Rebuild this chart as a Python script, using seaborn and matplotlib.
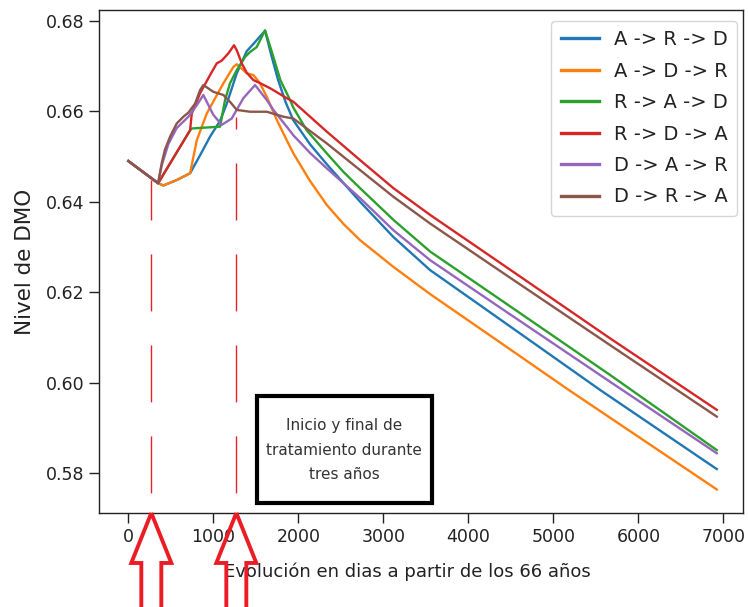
import matplotlib
matplotlib.use("Agg")
import matplotlib.pyplot as plt
from matplotlib import transforms
from matplotlib.patches import Polygon, Rectangle
from matplotlib.ticker import FormatStrFormatter
import pandas as pd
import seaborn as sns

# Treatment sequences and their colours
secuencias = ["A -> R -> D", "A -> D -> R", "R -> A -> D",
              "R -> D -> A", "D -> A -> R", "D -> R -> A"]
colores = ["#1f77b4", "#ff7f0e", "#2ca02c", "#d62728", "#9467bd", "#8c564b"]

# Bone density level (DMO) by day, one series per sequence
dias_ard = [0, 350, 412, 569, 726, 850, 961, 1079, 1158, 1275, 1393, 1471, 1608,
            1680, 1760, 1850, 1941, 2137, 2334, 2726, 3118, 3549, 4373, 5549, 6922]
dmo_ard = [0.6490, 0.6441, 0.6436, 0.6448, 0.6463, 0.6505, 0.6544, 0.6579, 0.6617,
           0.6684, 0.6733, 0.6749, 0.6778, 0.6725, 0.6670, 0.6620, 0.6580, 0.6527,
           0.6483, 0.6400, 0.6322, 0.6249, 0.6140, 0.5984, 0.5809]

dias_adr = [0, 350, 412, 569, 726, 805, 922, 1118, 1235, 1275, 1393, 1471, 1549,
            1628, 1746, 1863, 1941, 2137, 2334, 2530, 2726, 3118, 3549, 4373,
            5180, 6922]
dmo_adr = [0.6490, 0.6441, 0.6436, 0.6448, 0.6463, 0.6536, 0.6595, 0.6662, 0.6698,
           0.6704, 0.6684, 0.6680, 0.6662, 0.6632, 0.6581, 0.6536, 0.6507, 0.6446,
           0.6393, 0.6351, 0.6315, 0.6256, 0.6196, 0.6089, 0.5984, 0.5764]

dias_rad = [0, 350, 726, 746, 1079, 1137, 1196, 1275, 1373, 1431, 1510, 1608,
            1690, 1790, 1902, 1941, 2098, 2334, 2530, 2726, 3118, 3549, 4373,
            5667, 6922]
dmo_rad = [0.6490, 0.6441, 0.6558, 0.6562, 0.6566, 0.6625, 0.6662, 0.6691, 0.6720,
           0.6731, 0.6742, 0.6779, 0.6730, 0.6668, 0.6625, 0.6608, 0.6558, 0.6507,
           0.6466, 0.6430, 0.6360, 0.6290, 0.6184, 0.6017, 0.5851]

dias_rda = [0, 350, 726, 746, 844, 961, 1040, 1098, 1176, 1243, 1275, 1334, 1393,
            1471, 1551, 1667, 1863, 1941, 2334, 2726, 3118, 3549, 4373, 5667, 6922]
dmo_rda = [0.6490, 0.6441, 0.6558, 0.6595, 0.6640, 0.6680, 0.6706, 0.6712, 0.6728,
           0.6746, 0.6735, 0.6706, 0.6685, 0.6669, 0.6662, 0.6651, 0.6629, 0.6621,
           0.6555, 0.6492, 0.6430, 0.6371, 0.6265, 0.6098, 0.5940]

dias_dar = [0, 350, 392, 471, 569, 706, 800, 882, 1000, 1098, 1216, 1353, 1490,
            1628, 1706, 1863, 1941, 2137, 2334, 2726, 3118, 3549, 4373, 5667, 6922]
dmo_dar = [0.6490, 0.6441, 0.6480, 0.6528, 0.6563, 0.6588, 0.6612, 0.6636, 0.6592,
           0.6570, 0.6584, 0.6629, 0.6658, 0.6625, 0.6603, 0.6566, 0.6547, 0.6508,
           0.6474, 0.6408, 0.6337, 0.6271, 0.6166, 0.6002, 0.5844]

dias_dra = [0, 350, 392, 430, 491, 569, 647, 706, 785, 844, 882, 1000, 1118, 1200,
            1275, 1432, 1628, 1824, 1941, 2334, 2726, 3118, 3549, 4373, 5667, 6922]
dmo_dra = [0.6490, 0.6441, 0.6485, 0.6515, 0.6544, 0.6573, 0.6588, 0.6597, 0.6617,
           0.6647, 0.6658, 0.6643, 0.6636, 0.6620, 0.6603, 0.6599, 0.6599, 0.6588,
           0.6584, 0.6529, 0.6470, 0.6411, 0.6352, 0.6247, 0.6083, 0.5925]

# Start and end of the three-year treatment window
lineas_dias = [270, 1270]
lineas_tope = [0.6448, 0.6588]

x_ticks = [0, 1000, 2000, 3000, 4000, 5000, 6000, 7000]
y_ticks = [0.58, 0.60, 0.62, 0.64, 0.66, 0.68]
x_lim = (-345, 7231)
y_lim = (0.5712, 0.6824)

series = [(dias_ard, dmo_ard), (dias_adr, dmo_adr), (dias_rad, dmo_rad),
          (dias_rda, dmo_rda), (dias_dar, dmo_dar), (dias_dra, dmo_dra)]
frames = [pd.DataFrame({"dia": d, "dmo": v, "secuencia": s})
          for s, (d, v) in zip(secuencias, series)]
df = pd.concat(frames, ignore_index=True)

fig = plt.figure(figsize=(7.48, 6.07), dpi=100)
ax = fig.add_axes([0.1324, 0.1549, 0.8610, 0.8287])

sns.lineplot(data=df, x="dia", y="dmo", hue="secuencia", hue_order=secuencias,
             palette=colores, estimator=None, sort=False, linewidth=1.7, ax=ax)

# dashed red markers for the treatment window
for x0, top in zip(lineas_dias, lineas_tope):
    ax.plot([x0, x0], [y_lim[0], top], color="#e8202a", lw=1.0,
            linestyle=(51, (41, 24.5)), zorder=1)

ax.set_xlim(*x_lim)
ax.set_ylim(*y_lim)
ax.set_xticks(x_ticks)
ax.set_yticks(y_ticks)
ax.yaxis.set_major_formatter(FormatStrFormatter("%.2f"))
ax.tick_params(labelsize=12.5, length=7, width=1.0, colors="#222222",
               labelcolor="#222222")
for sp in ax.spines.values():
    sp.set_linewidth(1.0)
    sp.set_color("#222222")

ax.set_xlabel("Evolución en dias a partir de los 66 años", fontsize=13,
              color="#222222")
ax.set_ylabel("Nivel de DMO", fontsize=15.5, color="#222222")
ax.xaxis.set_label_coords(0.478, -0.099)
ax.yaxis.set_label_coords(-0.100, 0.5)

sns.move_legend(ax, "upper right", bbox_to_anchor=(0.9911, 0.9787),
                borderaxespad=0, title=None, fontsize=14, labelspacing=0.64,
                borderpad=0.49, handlelength=2.0, handletextpad=0.75,
                frameon=True)
for h in ax.get_legend().legend_handles:
    h.set_linewidth(2.4)
for t in ax.get_legend().get_texts():
    t.set_color("#222222")

# text box describing the dashed markers
ax.add_patch(Rectangle((1511, 0.5733), 2058, 0.0238, fill=False, lw=3,
                       ec="black", zorder=5))
ax.text(2540, 0.5851, "Inicio y final de\ntratamiento durante\ntres años",
        ha="center", va="center", fontsize=11, linespacing=1.8,
        color="#333333", zorder=6)

# hollow arrows pointing up at each dashed marker
forma = [(0, 0), (0.20, -0.50), (0.10, -0.50), (0.10, -1.3),
         (-0.10, -1.3), (-0.10, -0.50), (-0.20, -0.50)]
for x0 in lineas_dias:
    tr = fig.dpi_scale_trans + transforms.ScaledTranslation(x0, y_lim[0], ax.transData)
    flecha = Polygon(forma, closed=True, fill=False, ec="#ec1c24", lw=2.8,
                     transform=tr, clip_on=False, zorder=10)
    fig.add_artist(flecha)

fig.savefig("out.png", dpi=100)
